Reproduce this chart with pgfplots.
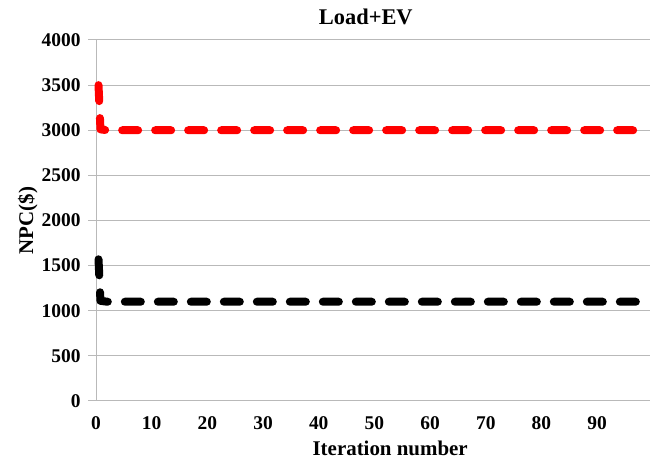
\documentclass[border=0pt]{standalone}
\usepackage{fontspec}
\setmainfont{Liberation Serif}
\usepackage{pgfplots}
\pgfplotsset{compat=1.18}
\definecolor{gridgray}{RGB}{185,185,185}
\begin{document}
\begin{tikzpicture}[x=1bp,y=1bp]
\useasboundingbox (0,0) rectangle (652,459);
\begin{axis}[
  at={(96bp,58bp)}, anchor=south west,
  scale only axis, width=554bp, height=361bp,
  xmin=0, xmax=99.5, ymin=0, ymax=4000,
  clip=false,
  xtick={0,10,...,90}, ytick={0,500,...,4000},
  axis x line*=bottom, axis y line*=left,
  axis line style={gridgray, line width=1bp, -},
  ymajorgrids, grid style={gridgray, line width=1bp},
  xtick style={draw=none},
  ytick style={gridgray, line width=1bp},
  tick align=outside, major tick length=8bp,
  /pgf/number format/assume math mode=true,
  /pgf/number format/1000 sep={},
  tick label style={font=\fontsize{19.5}{19.5}\selectfont\bfseries},
  yticklabel style={anchor=east, xshift=-4bp},
  xticklabel style={anchor=center, yshift=-14bp},
  title={Load+EV},
  title style={font=\fontsize{22.5}{22.5}\selectfont\bfseries, at={(0.487,1.047)}, anchor=center},
  xlabel={Iteration number},
  xlabel style={font=\fontsize{21}{21}\selectfont\bfseries, at={(0.531,-0.131)}, anchor=center},
  ylabel={NPC(\$)},
  ylabel style={font=\fontsize{21}{21}\selectfont\bfseries, at={(-0.123,0.5)}, anchor=center},
]
\addplot[red, line width=8bp, line cap=round, line join=round, dash pattern=on 16bp off 17bp]
coordinates {(0.45,3500) (0.8,3010) (2,3000) (3,3000) (5,3000) (10,3000) (15,3000) (20,3000) (25,3000) (30,3000) (35,3000) (40,3000) (45,3000) (50,3000) (55,3000) (60,3000) (65,3000) (70,3000) (75,3000) (80,3000) (85,3000) (90,3000) (95,3000) (97,3000)};
\addplot[black, line width=8bp, line cap=round, line join=round, dash pattern=on 16bp off 17bp]
coordinates {(0.45,1570) (0.8,1110) (2,1100) (3,1100) (5,1100) (10,1100) (15,1100) (20,1100) (25,1100) (30,1100) (35,1100) (40,1100) (45,1100) (50,1100) (55,1100) (60,1100) (65,1100) (70,1100) (75,1100) (80,1100) (85,1100) (90,1100) (95,1100) (97,1100)};
\end{axis}
\end{tikzpicture}
\end{document}
